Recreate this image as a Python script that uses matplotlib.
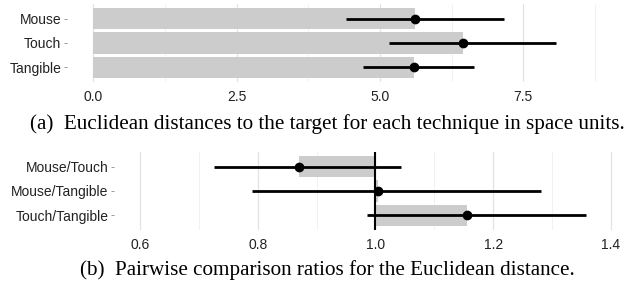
import matplotlib
matplotlib.use("Agg")
import matplotlib.pyplot as plt
from matplotlib.ticker import FixedLocator

# ---- data ----
techniques = ["Mouse", "Touch", "Tangible"]
dist_mean = [5.61, 6.45, 5.59]
dist_low = [4.40, 5.16, 4.70]
dist_high = [7.17, 8.08, 6.65]

pairs = ["Mouse/Touch", "Mouse/Tangible", "Touch/Tangible"]
ratio_mean = [0.870, 1.005, 1.155]
ratio_low = [0.726, 0.790, 0.985]
ratio_high = [1.044, 1.281, 1.357]

top_ticks = [0.0, 2.5, 5.0, 7.5]
top_minor = [1.25, 3.75, 6.25, 8.75]
bot_ticks = [0.6, 0.8, 1.0, 1.2, 1.4]
bot_minor = [0.7, 0.9, 1.1, 1.3]

caption_a = "(a)  Euclidean distances to the target for each technique in space units."
caption_b = "(b)  Pairwise comparison ratios for the Euclidean distance."

W, H = 624, 285
fig = plt.figure(figsize=(W / 100, H / 100), dpi=100)

def ax_at(x0, y0, x1, y1):
    return fig.add_axes([x0 / W, 1 - y1 / H, (x1 - x0) / W, (y1 - y0) / H])

BAR = "#cccccc"
MAJ = "#e3e3e3"
MIN = "#f1f1f1"
SANS = "Liberation Sans"
SERIF = "Liberation Serif"

def style(ax, major, minor, labels):
    for s in ax.spines.values():
        s.set_visible(False)
    ax.xaxis.set_major_locator(FixedLocator(major))
    ax.xaxis.set_minor_locator(FixedLocator(minor))
    ax.grid(True, axis="x", which="major", color=MAJ, lw=0.9, zorder=0)
    ax.grid(True, axis="x", which="minor", color=MIN, lw=0.7, zorder=0)
    ax.set_axisbelow(True)
    ax.tick_params(axis="x", which="both", length=0, pad=6, labelsize=10,
                   labelcolor="#222222")
    ax.tick_params(axis="y", length=2.5, width=0.6, color="#888888", pad=1.5,
                   labelsize=10, labelcolor="#222222")
    ax.set_ylim(-0.6, len(labels) - 0.4)
    ax.set_yticks(range(len(labels)))
    ax.set_yticklabels(labels)
    ax.invert_yaxis()
    for t in ax.get_xticklabels() + ax.get_yticklabels():
        t.set_family(SANS)

# ---- top panel ----
ax1 = ax_at(67, 4, 600, 82)
y = list(range(len(techniques)))
ax1.barh(y, dist_mean, height=0.87, color=BAR, zorder=1)
ax1.hlines(y, dist_low, dist_high, color="black", lw=2.0, zorder=2)
ax1.plot(dist_mean, y, "o", color="black", ms=6, zorder=3)
ax1.set_xlim(-0.46, 8.84)
style(ax1, top_ticks, top_minor, techniques)
ax1.set_xticklabels(["0.0", "2.5", "5.0", "7.5"], family=SANS)

# ---- bottom panel ----
ax2 = ax_at(114, 152, 618, 230)
y2 = list(range(len(pairs)))
ax2.barh(y2, [m - 1 for m in ratio_mean], left=1, height=0.87, color=BAR, zorder=1)
ax2.axvline(1.0, color="black", lw=1.5, zorder=2)
ax2.hlines(y2, ratio_low, ratio_high, color="black", lw=2.0, zorder=3)
ax2.plot(ratio_mean, y2, "o", color="black", ms=6, zorder=4)
ax2.set_xlim(0.556, 1.412)
style(ax2, bot_ticks, bot_minor, pairs)
ax2.set_xticklabels(["0.6", "0.8", "1.0", "1.2", "1.4"], family=SANS)

fig.text(327 / W, 1 - 124 / H, caption_a, family=SERIF, fontsize=15.2,
         ha="center", va="center", color="black")
fig.text(327 / W, 1 - 270 / H, caption_b, family=SERIF, fontsize=15.2,
         ha="center", va="center", color="black")

fig.savefig("out.png", dpi=100)
